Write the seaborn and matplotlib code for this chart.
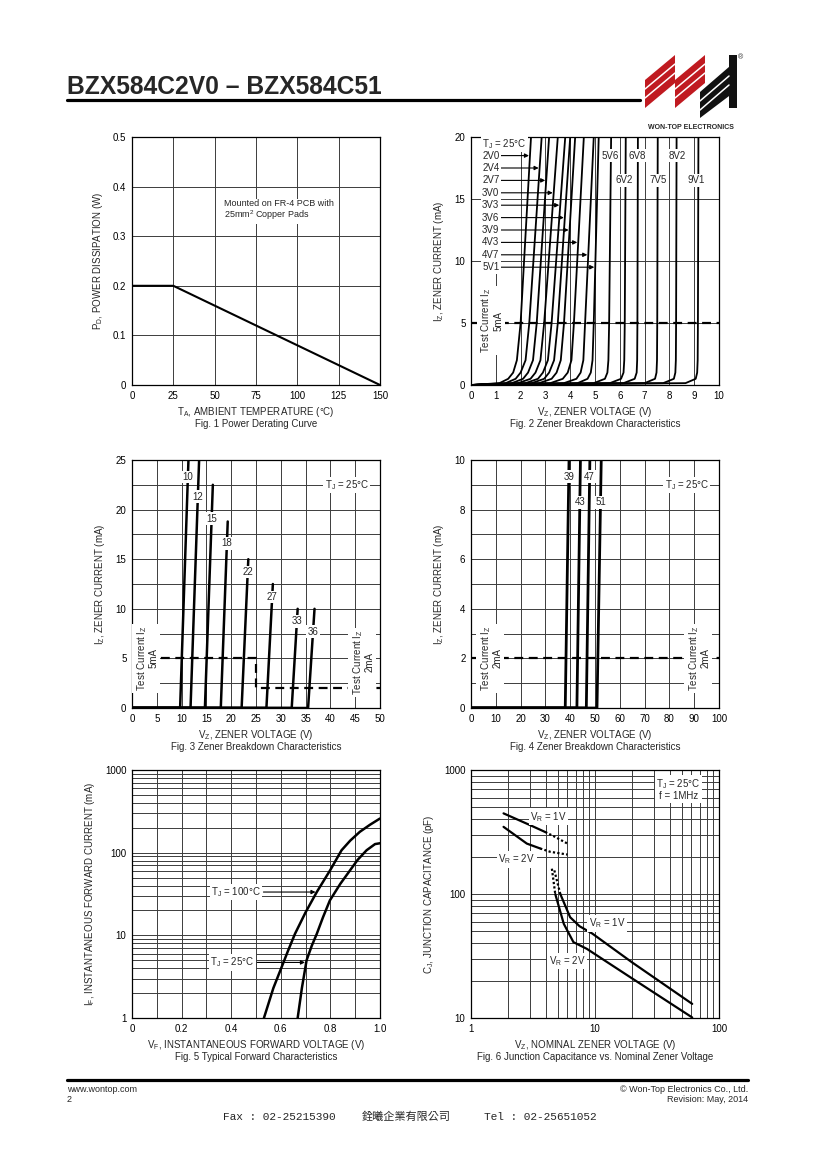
import numpy as np
import matplotlib
matplotlib.use("Agg")
import matplotlib.pyplot as plt
from matplotlib.patches import Polygon
from matplotlib.lines import Line2D
from matplotlib.ticker import MultipleLocator, FixedLocator, NullFormatter, LogLocator, FuncFormatter
import seaborn as sns

# ---------------- data ----------------
# Fig. 1 power derating
derate_temp = [0, 25, 150]
derate_power = [0.2, 0.2, 0.0]

# Fig. 2 zener curves (voltage at each current step)
fig2_names = ["2V0", "2V4", "2V7", "3V0", "3V3", "3V6", "3V9", "4V3", "4V7", "5V1",
              "5V6", "6V2", "6V8", "7V5", "8V2", "9V1"]
fig2_current = [0, 0.15, 0.5, 1.0, 2.0, 5.0, 20.0]
fig2_volts = [
    [0, 1.15, 1.50, 1.70, 1.85, 2.00, 2.42],
    [0, 1.40, 1.80, 2.00, 2.20, 2.35, 2.85],
    [0, 1.65, 2.10, 2.30, 2.50, 2.65, 3.15],
    [0, 1.90, 2.40, 2.60, 2.80, 2.95, 3.50],
    [0, 2.20, 2.70, 2.90, 3.10, 3.25, 3.80],
    [0, 2.45, 2.95, 3.15, 3.35, 3.50, 4.00],
    [0, 2.75, 3.25, 3.45, 3.62, 3.75, 4.20],
    [0, 3.20, 3.70, 3.90, 4.05, 4.15, 4.55],
    [0, 3.75, 4.25, 4.42, 4.53, 4.60, 4.95],
    [0, 4.30, 4.70, 4.83, 4.90, 4.95, 5.15],
    [0, 4.95, 5.40, 5.50, 5.54, 5.57, 5.65],
    [0, 5.60, 6.05, 6.15, 6.18, 6.20, 6.24],
    [0, 6.15, 6.60, 6.68, 6.70, 6.71, 6.73],
    [0, 7.00, 7.42, 7.48, 7.50, 7.51, 7.53],
    [0, 7.75, 8.18, 8.24, 8.26, 8.27, 8.29],
    [0, 8.65, 9.06, 9.12, 9.14, 9.15, 9.17],
]
fig2_arrow_current = [18.5, 17.5, 16.5, 15.5, 14.5, 13.5, 12.5, 11.5, 10.5, 9.5]
fig2_right_names = ["5V6", "6V8", "8V2", "6V2", "7V5", "9V1"]
fig2_right_v = [5.6, 6.72, 8.31, 6.18, 7.53, 9.08]
fig2_right_i = [18.5, 18.5, 18.5, 16.5, 16.5, 16.5]

# Fig. 3 zener curves 10V..36V
fig3_names = ["10", "12", "15", "18", "22", "27", "33", "36"]
fig3_v_start = [9.7, 11.8, 14.7, 17.9, 22.1, 27.1, 32.2, 35.5]
fig3_v_end = [11.45, 13.6, 16.3, 19.3, 23.45, 28.4, 33.4, 36.8]
fig3_i_end = [26, 26, 22.5, 18.8, 15.0, 12.5, 10.0, 10.0]
fig3_label_i = [23.3, 21.3, 19.1, 16.6, 13.7, 11.2, 8.75, 7.7]
fig3_test_v = [0, 25, 25, 50]
fig3_test_i = [5, 5, 2, 2]

# Fig. 4 zener curves 39V..51V
fig4_names = ["39", "43", "47", "51"]
fig4_v_start = [38.0, 42.7, 46.5, 50.8]
fig4_v_end = [39.6, 44.2, 48.0, 52.6]
fig4_i_end = [10.5, 10.5, 10.5, 10.5]
fig4_label_i = [9.33, 8.3, 9.33, 8.3]

# Fig. 5 forward characteristics
fwd_v_100 = [0.532, 0.57, 0.603, 0.63, 0.657, 0.70, 0.745, 0.80, 0.845, 0.88, 0.919, 0.96, 1.0]
fwd_i_100 = [1.0, 2.3, 4.1, 6.6, 10.4, 19, 33.4, 62, 107, 140, 179, 218, 259]
fwd_v_25 = [0.668, 0.685, 0.704, 0.725, 0.745, 0.77, 0.798, 0.84, 0.879, 0.91, 0.946, 0.98, 1.0]
fwd_i_25 = [1.0, 2.3, 5.0, 7.5, 10.4, 16.5, 26.5, 42, 61, 82, 107, 127, 130]

# Fig. 6 junction capacitance
cap1_hi_v = [1.83, 3.0, 3.97]
cap1_hi_c = [447, 359, 316]
cap1_hi_dot_v = [3.97, 4.63, 6.0]
cap1_hi_dot_c = [316, 293, 255]
cap2_hi_v = [1.83, 2.82, 3.61]
cap2_hi_c = [348, 255, 233]
cap2_hi_dot_v = [3.61, 4.35, 6.0]
cap2_hi_dot_c = [233, 219, 208]
cap1_mid_dot_v = [4.7, 5.25]
cap1_mid_dot_c = [155, 100]
cap2_mid_dot_v = [4.49, 4.78]
cap2_mid_dot_c = [160, 100]
cap1_lo_v = [5.25, 6.3, 7.5, 9.5, 20, 60.8]
cap1_lo_c = [100, 65, 55, 48, 28, 13]
cap2_lo_v = [4.78, 5.6, 6.7, 8.6, 20, 60.8]
cap2_lo_c = [100, 57.5, 40.9, 36.1, 20.8, 10.1]

# ---------------- style ----------------
sns.set_theme(style="white")
plt.rcParams['font.family'] = ['Liberation Sans', 'DejaVu Sans']
plt.rcParams['mathtext.fontset'] = 'custom'
plt.rcParams['mathtext.rm'] = 'Liberation Sans'
plt.rcParams['mathtext.it'] = 'Liberation Sans:italic'

W, H = 820, 1160
fig = plt.figure(figsize=(8.2, 11.6), dpi=100)
fig.patch.set_facecolor('white')

GRID = dict(color='#3c3c3c', linewidth=0.7)
FS = 7
WHITE = dict(facecolor='white', edgecolor='none', pad=1.0)


def fx(x):
    return x / W


def fy(y):
    return 1 - y / H


def make_ax(left_px, top_px):
    ax = fig.add_axes([fx(left_px), fy(top_px + 248), 248 / W, 248 / H])
    ax.tick_params(length=0, labelsize=FS, pad=4, colors='black')
    for s in ax.spines.values():
        s.set_color('black')
        s.set_linewidth(0.9)
    ax.set_axisbelow(True)
    return ax


def labels(ax, xl, yl, cap):
    ax.set_xlabel(xl + "\n" + cap, fontsize=FS, labelpad=3, linespacing=1.05)
    ax.set_ylabel(yl, fontsize=FS, labelpad=6)


def line(ax, x, y, lw=1.4, ls='-'):
    sns.lineplot(x=x, y=y, ax=ax, color='black', linewidth=lw, linestyle=ls,
                 sort=False, estimator=None, legend=False)


def arrow(ax, x0, x1, y):
    ax.annotate("", xy=(x1, y), xytext=(x0, y),
                arrowprops=dict(arrowstyle='-|>', color='black', lw=0.8,
                                mutation_scale=6, shrinkA=0, shrinkB=0))


def test_text(ax, x, y, cur):
    ax.text(x, y, "Test Current I$_\\mathrm{Z}$\n" + cur, rotation=90, ha='center',
            va='center', fontsize=FS, linespacing=1.0, bbox=WHITE, zorder=5)


# ---------------- Fig. 1 ----------------
ax1 = make_ax(132, 137)
ax1.set_xlim(0, 150)
ax1.set_ylim(0, 0.5)
ax1.xaxis.set_major_locator(MultipleLocator(25))
ax1.yaxis.set_major_locator(MultipleLocator(0.1))
ax1.yaxis.set_major_formatter(FuncFormatter(lambda v, p: "0" if abs(v) < 1e-9 else f"{v:.1f}"))
ax1.grid(True, **GRID)
line(ax1, derate_temp, derate_power, lw=1.5)
ax1.text(55.6, 0.352, "Mounted on FR-4 PCB with\n25mm$^2$ Copper Pads", fontsize=6.5,
         ha='left', va='center', linespacing=1.1, bbox=WHITE)
labels(ax1, "T$_\\mathrm{A}$, AMBIENT TEMPERATURE (°C)", "P$_\\mathrm{D}$, POWER DISSIPATION (W)",
       "Fig. 1 Power Derating Curve")

# ---------------- Fig. 2 ----------------
ax2 = make_ax(471, 137)
ax2.set_xlim(0, 10)
ax2.set_ylim(0, 20)
ax2.xaxis.set_major_locator(MultipleLocator(1))
ax2.yaxis.set_major_locator(MultipleLocator(5))
ax2.grid(True, **GRID)
for v in fig2_volts:
    line(ax2, v, fig2_current, lw=1.3)
ax2.axhline(5, color='black', lw=1.6, ls=(0, (4, 2.5)), zorder=3)
test_text(ax2, 0.83, 5.2, "5mA")
ax2.text(0.45, 19.45, "T$_\\mathrm{J}$ = 25°C", fontsize=FS, ha='left', va='center', bbox=WHITE)
for name, v, cur in zip(fig2_names, fig2_volts, fig2_arrow_current):
    ax2.text(0.45, cur, name, fontsize=FS, ha='left', va='center', bbox=WHITE, zorder=6)
    tip = np.interp(cur, fig2_current, v) - 0.04
    arrow(ax2, 1.18, tip, cur)
for name, v, cur in zip(fig2_right_names, fig2_right_v, fig2_right_i):
    ax2.text(v, cur, name, fontsize=FS, ha='center', va='center', bbox=WHITE, zorder=6)
labels(ax2, "V$_\\mathrm{Z}$, ZENER VOLTAGE (V)", "I$_\\mathrm{Z}$, ZENER CURRENT (mA)",
       "Fig. 2 Zener Breakdown Characteristics")

# ---------------- Fig. 3 ----------------
ax3 = make_ax(132, 460)
ax3.set_xlim(0, 50)
ax3.set_ylim(0, 25)
ax3.xaxis.set_major_locator(MultipleLocator(5))
ax3.yaxis.set_major_locator(MultipleLocator(5))
ax3.yaxis.set_minor_locator(MultipleLocator(2.5))
ax3.grid(True, which='both', **GRID)
line(ax3, fig3_test_v, fig3_test_i, lw=1.6, ls=(0, (4, 2.5)))
for v0, v1, i1 in zip(fig3_v_start, fig3_v_end, fig3_i_end):
    line(ax3, [0, v0, v1], [0, 0, i1], lw=1.8)
for name, v0, v1, i1, li in zip(fig3_names, fig3_v_start, fig3_v_end, fig3_i_end, fig3_label_i):
    ax3.text(np.interp(li, [0, i1], [v0, v1]), li, name, fontsize=FS, ha='center', va='center',
             bbox=WHITE, zorder=6)
ax3.text(43.3, 22.5, "T$_\\mathrm{J}$ = 25°C", fontsize=FS, ha='center', va='center', bbox=WHITE)
test_text(ax3, 3.0, 5.0, "5mA")
test_text(ax3, 46.5, 4.6, "2mA")
labels(ax3, "V$_\\mathrm{Z}$, ZENER VOLTAGE (V)", "I$_\\mathrm{Z}$, ZENER CURRENT (mA)",
       "Fig. 3 Zener Breakdown Characteristics")

# ---------------- Fig. 4 ----------------
ax4 = make_ax(471, 460)
ax4.set_xlim(0, 100)
ax4.set_ylim(0, 10)
ax4.xaxis.set_major_locator(MultipleLocator(10))
ax4.yaxis.set_major_locator(MultipleLocator(2))
ax4.yaxis.set_minor_locator(MultipleLocator(1))
ax4.grid(True, which='both', **GRID)
ax4.axhline(2, color='black', lw=1.6, ls=(0, (4, 2.5)), zorder=3)
for v0, v1, i1 in zip(fig4_v_start, fig4_v_end, fig4_i_end):
    line(ax4, [0, v0, v1], [0, 0, i1], lw=2.0)
for name, v0, v1, i1, li in zip(fig4_names, fig4_v_start, fig4_v_end, fig4_i_end, fig4_label_i):
    ax4.text(np.interp(li, [0, i1], [v0, v1]), li, name, fontsize=FS, ha='center', va='center',
             bbox=WHITE, zorder=6)
ax4.text(87, 9.0, "T$_\\mathrm{J}$ = 25°C", fontsize=FS, ha='center', va='center', bbox=WHITE)
test_text(ax4, 8.0, 2.0, "2mA")
test_text(ax4, 92.0, 2.0, "2mA")
labels(ax4, "V$_\\mathrm{Z}$, ZENER VOLTAGE (V)", "I$_\\mathrm{Z}$, ZENER CURRENT (mA)",
       "Fig. 4 Zener Breakdown Characteristics")

# ---------------- Fig. 5 ----------------
ax5 = make_ax(132, 770)
ax5.set_yscale('log')
ax5.set_xlim(0, 1.0)
ax5.set_ylim(1, 1000)
ax5.xaxis.set_major_locator(MultipleLocator(0.2))
ax5.xaxis.set_minor_locator(MultipleLocator(0.1))
ax5.xaxis.set_major_formatter(FuncFormatter(lambda v, p: "0" if abs(v) < 1e-9 else f"{v:.1f}"))
ax5.yaxis.set_major_locator(FixedLocator([1, 10, 100, 1000]))
ax5.yaxis.set_major_formatter(FuncFormatter(lambda v, p: f"{v:g}"))
ax5.yaxis.set_minor_locator(LogLocator(base=10, subs=np.arange(2, 10)))
ax5.yaxis.set_minor_formatter(NullFormatter())
ax5.tick_params(which='minor', length=0)
ax5.grid(True, which='both', **GRID)
line(ax5, fwd_v_100, fwd_i_100, lw=1.8)
line(ax5, fwd_v_25, fwd_i_25, lw=1.8)
ax5.text(0.42, 33.4, "T$_\\mathrm{J}$ = 100°C", fontsize=FS, ha='center', va='center', bbox=WHITE)
arrow(ax5, 0.53, np.interp(np.log10(33.4), np.log10(fwd_i_100), fwd_v_100) - 0.005, 33.4)
ax5.text(0.405, 4.7, "T$_\\mathrm{J}$ = 25°C", fontsize=FS, ha='center', va='center', bbox=WHITE)
arrow(ax5, 0.505, np.interp(np.log10(4.7), np.log10(fwd_i_25), fwd_v_25) - 0.005, 4.7)
labels(ax5, "V$_\\mathrm{F}$, INSTANTANEOUS FORWARD VOLTAGE (V)",
       "I$_\\mathrm{F}$, INSTANTANEOUS FORWARD CURRENT (mA)", "Fig. 5 Typical Forward Characteristics")

# ---------------- Fig. 6 ----------------
ax6 = make_ax(471, 770)
ax6.set_xscale('log')
ax6.set_yscale('log')
ax6.set_xlim(1, 100)
ax6.set_ylim(10, 1000)
for axis in (ax6.xaxis, ax6.yaxis):
    axis.set_major_formatter(FuncFormatter(lambda v, p: f"{v:g}"))
    axis.set_minor_locator(LogLocator(base=10, subs=np.arange(2, 10)))
    axis.set_minor_formatter(NullFormatter())
ax6.xaxis.set_major_locator(FixedLocator([1, 10, 100]))
ax6.yaxis.set_major_locator(FixedLocator([10, 100, 1000]))
ax6.tick_params(which='minor', length=0)
ax6.grid(True, which='both', **GRID)
line(ax6, cap1_hi_v, cap1_hi_c, lw=1.6)
line(ax6, cap2_hi_v, cap2_hi_c, lw=1.6)
line(ax6, cap1_hi_dot_v, cap1_hi_dot_c, lw=1.6, ls=(0, (1, 1)))
line(ax6, cap2_hi_dot_v, cap2_hi_dot_c, lw=1.6, ls=(0, (1, 1)))
line(ax6, cap1_mid_dot_v, cap1_mid_dot_c, lw=1.6, ls=(0, (1, 1)))
line(ax6, cap2_mid_dot_v, cap2_mid_dot_c, lw=1.6, ls=(0, (1, 1)))
line(ax6, cap1_lo_v, cap1_lo_c, lw=1.6)
line(ax6, cap2_lo_v, cap2_lo_c, lw=1.6)
ax6.text(4.2, 420, "V$_\\mathrm{R}$ = 1V", fontsize=FS, ha='center', va='center', bbox=WHITE)
ax6.text(2.34, 190, "V$_\\mathrm{R}$ = 2V", fontsize=FS, ha='center', va='center', bbox=WHITE)
ax6.text(12.5, 58, "V$_\\mathrm{R}$ = 1V", fontsize=FS, ha='center', va='center', bbox=WHITE)
ax6.text(5.94, 28.7, "V$_\\mathrm{R}$ = 2V", fontsize=FS, ha='center', va='center', bbox=WHITE)
ax6.text(47, 695, "T$_\\mathrm{J}$ = 25°C\nf = 1MHz", fontsize=FS, ha='center', va='center',
         linespacing=1.0, bbox=WHITE)
labels(ax6, "V$_\\mathrm{Z}$, NOMINAL ZENER VOLTAGE (V)", "C$_\\mathrm{J}$, JUNCTION CAPACITANCE (pF)",
       "Fig. 6 Junction Capacitance vs. Nominal Zener Voltage")

# ---------------- page header / footer ----------------
fig.text(fx(67), fy(87), "BZX584C2V0 – BZX584C51", fontsize=17.7, fontweight='bold',
         ha='left', va='center')
fig.add_artist(Line2D([fx(67), fx(640)], [fy(99.5), fy(99.5)], color='black', lw=2.3,
                      transform=fig.transFigure))


def poly(pts, color):
    fig.add_artist(Polygon([(fx(x), fy(y)) for x, y in pts], closed=True, facecolor=color,
                           edgecolor='none', transform=fig.transFigure))


def stripe(p0, p1):
    fig.add_artist(Line2D([fx(p0[0]), fx(p1[0])], [fy(p0[1]), fy(p1[1])], color='white',
                          lw=1.1, transform=fig.transFigure))


RED = '#c01a20'
poly([(645, 80), (675, 55), (675, 83), (645, 108)], RED)
poly([(675, 80), (705, 55), (705, 83), (675, 108)], RED)
poly([(700, 92), (737, 60), (737, 90), (700, 118)], '#111111')
poly([(729, 55), (737, 55), (737, 108), (729, 108)], '#111111')
for off in (9, 18):
    stripe((645, 80 + off), (675, 55 + off))
    stripe((675, 80 + off), (705, 55 + off))
    stripe((700, 92 + off), (729, 67 + off))
fig.text(fx(691), fy(127.5), "WON-TOP ELECTRONICS", fontsize=5, fontweight='bold',
         ha='center', va='center')
fig.text(fx(741), fy(58), "®", fontsize=5, ha='center', va='center')

fig.add_artist(Line2D([fx(67), fx(748)], [fy(1080), fy(1080)], color='black', lw=2.3,
                      transform=fig.transFigure))
fig.text(fx(67), fy(1089), "www.wontop.com", fontsize=6.5, ha='left', va='center')
fig.text(fx(67), fy(1100), "2", fontsize=6.5, ha='left', va='center')
fig.text(fx(748), fy(1089), "© Won-Top Electronics Co., Ltd.", fontsize=6.5, ha='right', va='center')
fig.text(fx(748), fy(1100), "Revision: May, 2014", fontsize=6.5, ha='right', va='center')
fig.text(fx(223), fy(1117), "Fax : 02-25215390", fontsize=8, family=['Liberation Mono', 'DejaVu Sans Mono'],
         ha='left', va='center')
fig.text(fx(362), fy(1117), "銓曦企業有限公司", fontsize=8,
         family=['Noto Sans CJK TC', 'DejaVu Sans'], ha='left', va='center')
fig.text(fx(597), fy(1117), "Tel : 02-25651052", fontsize=8, family=['Liberation Mono', 'DejaVu Sans Mono'],
         ha='right', va='center')

fig.savefig("out.png", dpi=100, facecolor='white')
